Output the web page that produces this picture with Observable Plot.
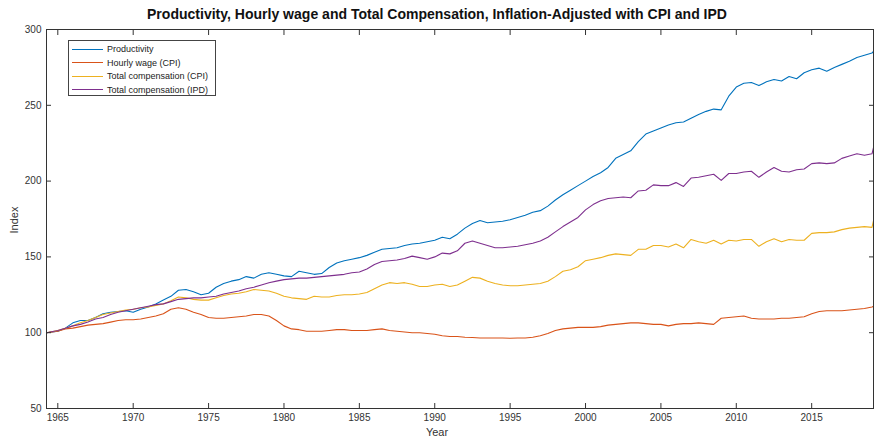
<!DOCTYPE html>
<html>
<head>
<meta charset="utf-8">
<script src="https://cdn.jsdelivr.net/npm/d3@7"></script>
<script src="https://cdn.jsdelivr.net/npm/@observablehq/plot@0.6"></script>
<style>
  html, body { margin: 0; padding: 0; background: #fff; }
  #wrap { position: relative; width: 874px; height: 440px; overflow: hidden; font-family: "Liberation Sans", Arial, sans-serif; }
  #title { height: 22px; width: 874px; text-align: center; position: relative; }
  #title span { display: inline-block; font-weight: bold; font-size: 14px; color: #111; position: absolute; top: 6px; white-space: nowrap; transform-origin: left top; }
  #xlabel { position: absolute; left: 0; width: 874px; top: 426px; text-align: center; font-size: 11px; color: #333; }
  #ylabel { position: absolute; left: 14px; top: 220px; font-size: 11px; color: #333; transform: translate(-50%, -50%) rotate(-90deg); white-space: nowrap; }
  #legend { position: absolute; left: 68px; top: 40px; width: 146px; height: 54px; border: 1px solid #444; background: #fff; font-size: 9px; color: #222; }
  .li { position: absolute; left: 3px; height: 12px; display: flex; align-items: center; white-space: nowrap; }
  .li i { display: inline-block; width: 31px; height: 0; border-top: 1px solid; margin-right: 4px; }
</style>
</head>
<body>
<div id="wrap">
  <div id="title"><span id="tspan">Productivity, Hourly wage and Total Compensation, Inflation-Adjusted with CPI and IPD</span></div>
  <div id="chart"></div>
  <div id="xlabel">Year</div>
  <div id="ylabel">Index</div>
  <div id="legend"></div>
</div>
<script>
const years = [1964.25,
  1965, 1965.5, 1966, 1966.5, 1967, 1967.5, 1968, 1968.5, 1969, 1969.5,
  1970, 1970.5, 1971, 1971.5, 1972, 1972.5, 1973, 1973.5, 1974, 1974.5,
  1975, 1975.5, 1976, 1976.5, 1977, 1977.5, 1978, 1978.5, 1979, 1979.5,
  1980, 1980.5, 1981, 1981.5, 1982, 1982.5, 1983, 1983.5, 1984, 1984.5,
  1985, 1985.5, 1986, 1986.5, 1987, 1987.5, 1988, 1988.5, 1989, 1989.5,
  1990, 1990.5, 1991, 1991.5, 1992, 1992.5, 1993, 1993.5, 1994, 1994.5,
  1995, 1995.5, 1996, 1996.5, 1997, 1997.5, 1998, 1998.5, 1999, 1999.5,
  2000, 2000.5, 2001, 2001.5, 2002, 2002.5, 2003, 2003.5, 2004, 2004.5,
  2005, 2005.5, 2006, 2006.5, 2007, 2007.5, 2008, 2008.5, 2009, 2009.5,
  2010, 2010.5, 2011, 2011.5, 2012, 2012.5, 2013, 2013.5, 2014, 2014.5,
  2015, 2015.5, 2016, 2016.5, 2017, 2017.5, 2018, 2018.5, 2019, 2019.1];

const productivity = [100,
  101, 103, 106.5, 108, 108, 110, 112.5, 113.5, 114, 114.5,
  113.5, 115.5, 117, 119, 121.5, 124, 128, 128.5, 127, 125,
  126, 130, 132.5, 134, 135, 137, 136, 138.5, 139.5, 138.5,
  137.5, 137, 140.5, 139.5, 138.5, 139, 143, 146, 147.5, 148.5,
  149.5, 151, 153, 155, 155.5, 156, 157.5, 158.5, 159, 160,
  161, 163, 162, 165, 169, 172, 174, 172.5, 173, 173.5,
  174.5, 176, 177.5, 179.5, 180.5, 183.5, 187.5, 191, 194, 197,
  200, 203, 205.5, 209, 215, 217.5, 220, 226, 231, 233,
  235, 237, 238.5, 239, 241.5, 244, 246, 247.5, 247, 256,
  262, 264.5, 265, 263, 265.5, 267, 266, 269, 267.5, 271.5,
  273.5, 274.5, 272.5, 275, 277, 279, 281.5, 283, 284.5, 285.5];

const hourlyWageCPI = [100,
  101, 102.5, 103, 104, 105, 105.5, 106, 107, 108, 108.5,
  108.5, 109, 110, 111, 112.5, 115.5, 116.5, 115.5, 113.5, 112,
  110, 109.5, 109.5, 110, 110.5, 111, 112, 112, 111, 108,
  104.5, 102.5, 102, 101, 101, 101, 101.5, 102, 102, 101.5,
  101.5, 101.5, 102, 102.5, 101.5, 101, 100.5, 100, 100, 99.5,
  99, 98, 97.5, 97.5, 97, 96.8, 96.5, 96.5, 96.5, 96.5,
  96.3, 96.5, 96.5, 97, 98, 99.5, 101.5, 102.5, 103, 103.5,
  103.5, 103.5, 104, 105, 105.5, 106, 106.5, 106.5, 106, 105.5,
  105.5, 104.5, 105.5, 106, 106, 106.5, 106, 105.5, 109.5, 110,
  110.5, 111, 109.5, 109, 109, 109, 109.5, 109.5, 110, 110.5,
  112.5, 114, 114.5, 114.5, 114.5, 115, 115.5, 116, 117, 117.5];

const totalCompCPI = [100,
  101.5, 103, 104.5, 106.5, 108, 110, 112, 113, 114, 115,
  115.5, 116.5, 117, 118, 119, 121, 123.5, 123, 122, 121.5,
  121.5, 123, 124.5, 125.5, 126, 127, 128.5, 128, 127.5, 126,
  124, 123, 122.5, 122, 124, 123.5, 123.5, 124.5, 125, 125,
  125.5, 126.5, 129, 131.5, 133, 132.5, 133, 132, 130.5, 130.5,
  131.5, 132, 130.5, 131.5, 134, 136.5, 136, 134, 132.5, 131.5,
  131, 131, 131.5, 132, 132.5, 134, 137, 140.5, 141.5, 143.5,
  147.5, 148.5, 149.5, 151, 152, 151.5, 151, 155, 155, 157.5,
  157.5, 156.5, 158.5, 156, 161.5, 160, 159, 161, 158.5, 161,
  160.5, 161.5, 161.5, 157, 160, 162, 160, 161.5, 161, 161,
  165.5, 166, 166, 166.5, 168, 169, 169.5, 170, 169.5, 174];

const totalCompIPD = [100,
  101.5, 103, 104.5, 105.5, 107, 109, 110, 112, 113.5, 114.5,
  115.5, 116.5, 117.5, 118.5, 119, 120.5, 122, 122.5, 123, 123,
  123.5, 124, 125.5, 126.5, 127.5, 129, 130, 131.5, 133, 134,
  135, 135.5, 136, 136, 136.5, 137, 137.5, 138, 138.5, 139.5,
  140, 142, 145, 147, 147.5, 148, 149, 150.5, 149.5, 148.5,
  150, 152.5, 152, 154, 159, 160.5, 159, 157.5, 156, 156,
  156.5, 157, 158, 159, 160.5, 163, 166.5, 170, 173, 176,
  181, 184.5, 187, 188.5, 189, 189.5, 189, 193.5, 194, 197.5,
  197, 197, 199, 196.5, 202, 202.5, 203.5, 204.5, 200.5, 205,
  205, 206, 206.5, 202.5, 206, 209, 206.5, 206, 207.5, 208,
  211.5, 212, 211.5, 212, 215, 216.5, 218, 217, 218, 222];

const seriesNames = ["Productivity", "Hourly wage (CPI)", "Total compensation (CPI)", "Total compensation (IPD)"];
const seriesColors = ["#0072BD", "#D95319", "#EDB120", "#7E2F8E"];
const xTicks = [1965, 1970, 1975, 1980, 1985, 1990, 1995, 2000, 2005, 2010, 2015];
const yTicks = [50, 100, 150, 200, 250, 300];

const seriesValues = [productivity, hourlyWageCPI, totalCompCPI, totalCompIPD];
const rows = seriesNames.flatMap((name, s) =>
  years.map((year, i) => ({ year, value: seriesValues[s][i], series: name })));

const axisColor = "#333";
const chart = Plot.plot({
  width: 874,
  height: 418,
  marginLeft: 46,
  marginRight: 1,
  marginTop: 7,
  marginBottom: 32,
  style: { fontFamily: "Liberation Sans, Arial, sans-serif", fontSize: "10px", color: axisColor, background: "white" },
  x: { domain: [1964.25, 2019.1] },
  y: { domain: [50, 300] },
  color: { domain: seriesNames, range: seriesColors },
  marks: [
    Plot.line(rows, { x: "year", y: "value", z: "series", stroke: "series", strokeWidth: 1.1 }),
    Plot.frame({ stroke: axisColor, strokeWidth: 1 }),
    Plot.axisX({ anchor: "bottom", ticks: xTicks, tickFormat: d => String(d), tickSize: -5, tickPadding: 10, label: null, stroke: axisColor, fill: axisColor }),
    Plot.axisX({ anchor: "top", ticks: xTicks, tickFormat: () => "", tickSize: -5, tickPadding: 0, label: null, stroke: axisColor }),
    Plot.axisY({ anchor: "left", ticks: yTicks, tickFormat: d => String(d), tickSize: -5, tickPadding: 10, label: null, stroke: axisColor, fill: axisColor }),
    Plot.axisY({ anchor: "right", ticks: yTicks, tickFormat: () => "", tickSize: -5, tickPadding: 0, label: null, stroke: axisColor })
  ]
});
document.getElementById("chart").appendChild(chart);

// legend
const legend = document.getElementById("legend");
seriesNames.forEach((name, i) => {
  const d = document.createElement("div");
  d.className = "li";
  d.style.top = (2 + i * 13.5) + "px";
  d.innerHTML = `<i style="border-color:${seriesColors[i]}"></i><span>${name}</span>`;
  legend.appendChild(d);
});

// fit title to reference width
const t = document.getElementById("tspan");
const w = t.getBoundingClientRect().width;
const target = 580;
const sx = target / w;
t.style.left = ((874 - target) / 2) + "px";
t.style.transform = `scaleX(${sx})`;
</script>
</body>
</html>
